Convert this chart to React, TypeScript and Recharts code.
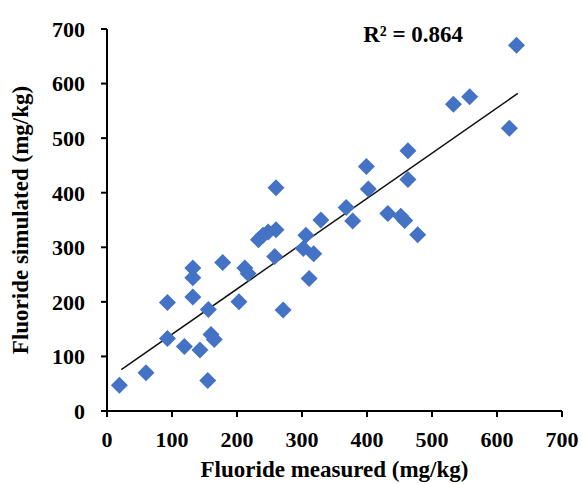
import React from "react";
import {
  ScatterChart,
  Scatter,
  XAxis,
  YAxis,
  ReferenceLine,
  ReferenceDot,
} from "recharts";

const measured = [
  19, 60, 93, 93, 119, 132, 132, 132, 143, 155, 156, 160, 165, 178, 203, 212,
  217, 233, 240, 248, 260, 260, 258, 271, 302, 306, 311, 318, 329, 368, 378,
  399, 402, 432, 452, 458, 463, 463, 478, 533, 558, 619, 630,
];
const simulated = [
  47, 70, 199, 133, 118, 262, 244, 209, 112, 56, 186, 140, 131, 272, 200, 262,
  252, 314, 322, 328, 332, 409, 283, 185, 298, 322, 243, 288, 350, 373, 348,
  448, 407, 362, 357, 349, 477, 424, 323, 562, 576, 518, 670,
];
const axisTicks = [0, 100, 200, 300, 400, 500, 600, 700];
const trendX = [22, 632];
const trendY = [76, 582];
const r2Label = "R² = 0.864";
const r2Pos = { x: 471, y: 692 };

const points = measured.map((x, i) => ({ x, y: simulated[i] }));
const trendSegment = trendX.map((x, i) => ({ x, y: trendY[i] }));

const FONT = "'Liberation Serif', 'Times New Roman', serif";
const BLUE = "#4472C4";

const Diamond = (props: any) => {
  const { cx, cy } = props;
  if (cx == null || cy == null) return null;
  const h = 8.5;
  return (
    <polygon
      points={`${cx},${cy - h} ${cx + h},${cy} ${cx},${cy + h} ${cx - h},${cy}`}
      fill={BLUE}
    />
  );
};

const tickStyle = {
  fontFamily: FONT,
  fontSize: 22,
  fontWeight: 700,
  fill: "#000",
};

const titleStyle = {
  fontFamily: FONT,
  fontSize: 23,
  fontWeight: 700,
  fill: "#000",
  textAnchor: "middle" as const,
};

export default function App() {
  return (
    <div style={{ position: "absolute", left: 0, top: 0, background: "#fff" }}>
      <ScatterChart
        width={582}
        height={484}
        margin={{ top: 29, right: 20, bottom: 0, left: 0 }}
      >
        <XAxis
          type="number"
          dataKey="x"
          domain={[0, 700]}
          ticks={axisTicks}
          interval={0}
          height={73}
          axisLine={{ stroke: "#000", strokeWidth: 2 }}
          tickLine={{ stroke: "#000", strokeWidth: 2 }}
          tickSize={6}
          tickMargin={14}
          tick={tickStyle}
          label={{
            value: "Fluoride measured (mg/kg)",
            position: "insideBottom",
            offset: 7,
            style: titleStyle,
          }}
        />
        <YAxis
          type="number"
          dataKey="y"
          domain={[0, 700]}
          ticks={axisTicks}
          interval={0}
          width={107}
          axisLine={{ stroke: "#000", strokeWidth: 2 }}
          tickLine={{ stroke: "#000", strokeWidth: 2 }}
          tickSize={6}
          tickMargin={16}
          tick={tickStyle}
          label={{
            value: "Fluoride simulated (mg/kg)",
            angle: -90,
            position: "insideLeft",
            offset: 20,
            style: titleStyle,
          }}
        />
        <Scatter
          data={points}
          shape={<Diamond />}
          isAnimationActive={false}
        />
        <ReferenceLine
          segment={trendSegment}
          stroke="#111"
          strokeWidth={1.5}
          ifOverflow="visible"
        />
        <ReferenceDot
          x={r2Pos.x}
          y={r2Pos.y}
          r={0}
          fill="none"
          stroke="none"
          ifOverflow="visible"
          label={{
            value: r2Label,
            position: "center",
            style: {
              fontFamily: FONT,
              fontSize: 23,
              fontWeight: 700,
              fill: "#000",
            },
          }}
        />
      </ScatterChart>
    </div>
  );
}
